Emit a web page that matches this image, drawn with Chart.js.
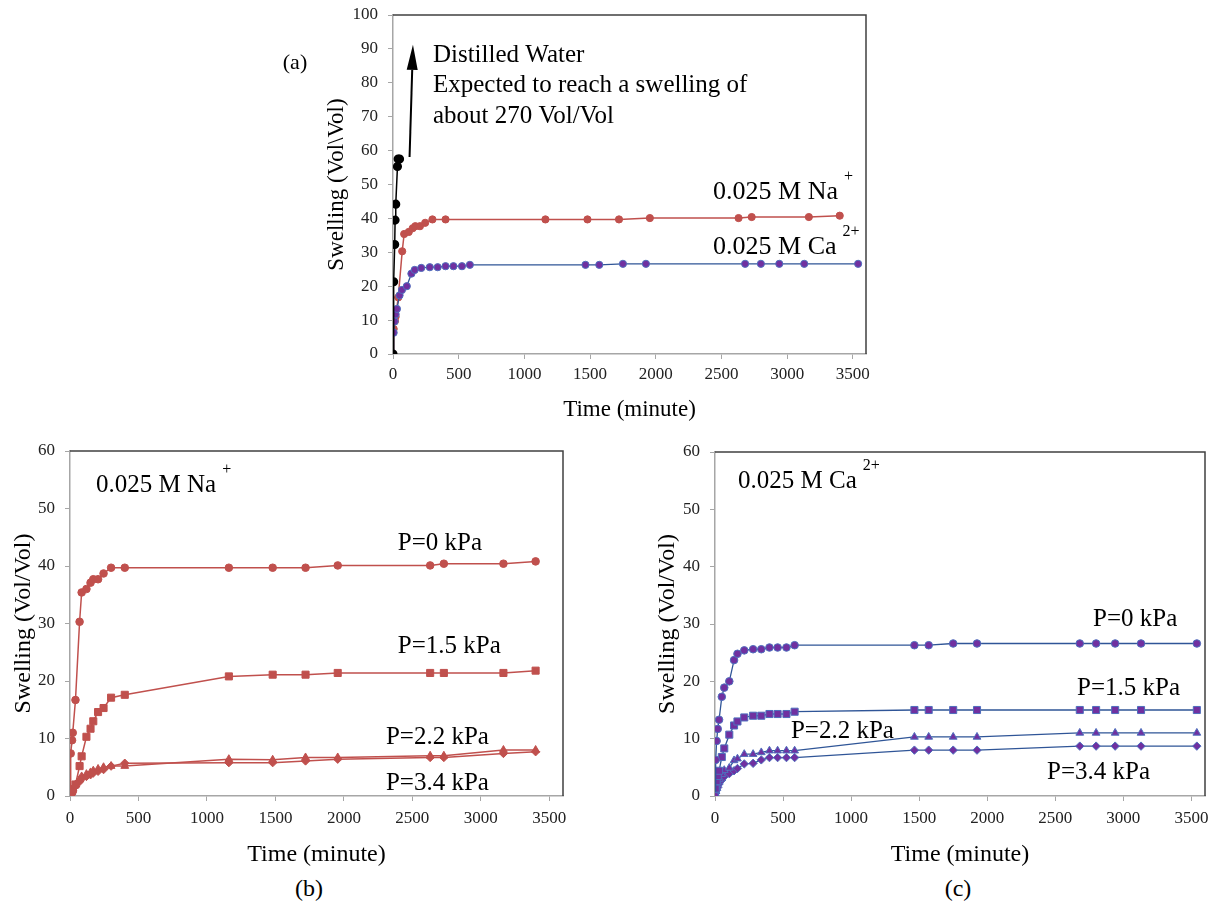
<!DOCTYPE html>
<html>
<head>
<meta charset="utf-8">
<script src="https://cdn.jsdelivr.net/npm/chart.js@4.4.0/dist/chart.umd.min.js"></script>
<style>
  body { margin: 0; background: #fff; width: 1213px; height: 901px; position: relative; overflow: hidden;
         font-family: "Liberation Serif", "Times New Roman", serif; }
  canvas { position: absolute; }
  .tag { position: absolute; font-size: 24px; color: #000; transform: translate(-50%, -50%); }
</style>
</head>
<body>
<canvas id="chartA" width="580" height="430" style="left:300px;top:0px"></canvas>
<canvas id="chartB" width="600" height="430" style="left:0px;top:440px"></canvas>
<canvas id="chartC" width="573" height="430" style="left:640px;top:440px"></canvas>
<div class="tag" style="left:295px;top:62px;font-size:22px">(a)</div>
<div class="tag" style="left:309px;top:888px">(b)</div>
<div class="tag" style="left:958px;top:888px">(c)</div>
<script>
var FONT = '"Liberation Serif", "Times New Roman", serif';

// tick labels
var timeTicks = [0, 500, 1000, 1500, 2000, 2500, 3000, 3500];
var swellTicksA = [0, 10, 20, 30, 40, 50, 60, 70, 80, 90, 100];
var swellTicksBC = [0, 10, 20, 30, 40, 50, 60];

// distilled water (panel a)
var waterTime = [0, 5, 13, 16, 21, 34, 39, 50];
var waterSwell = [0, 21.3, 32.3, 39.5, 44.2, 55.3, 57.5, 57.5];

// 0.025 M Na+ (panels a, b)
var naTime = [0, 5, 15, 20, 40, 70, 85, 120, 150, 170, 205, 245, 300, 400, 1160, 1480, 1720, 1955, 2630, 2730, 3165, 3400];
var naP0  = [0, 7.4, 9.7, 11.0, 16.7, 30.3, 35.4, 36.0, 37.1, 37.7, 37.7, 38.7, 39.7, 39.7, 39.7, 39.7, 39.7, 40.1, 40.1, 40.4, 40.4, 40.8];
var naP15 = [0, 0.3, 0.8, 1.2, 2.0, 5.2, 6.9, 10.3, 11.7, 13.0, 14.6, 15.3, 17.1, 17.6, 20.8, 21.1, 21.1, 21.4, 21.4, 21.4, 21.4, 21.8];
var naP22 = [0, 0.4, 0.8, 1.2, 2.0, 2.9, 3.4, 3.8, 4.1, 4.4, 4.7, 5.0, 5.2, 5.2, 6.4, 6.3, 6.7, 6.7, 7.0, 7.0, 8.0, 8.0];
var naP34 = [0, 0.3, 0.6, 1.0, 1.7, 2.5, 3.0, 3.4, 3.7, 4.0, 4.3, 4.6, 5.2, 5.7, 5.8, 5.8, 6.1, 6.4, 6.7, 6.7, 7.4, 7.7];

// 0.025 M Ca2+ (panels a, c)
var caTime = [0, 5, 12, 20, 30, 50, 68, 105, 140, 165, 215, 280, 340, 400, 460, 525, 585, 1465, 1570, 1750, 1925, 2680, 2800, 2940, 3130, 3540];
var caP0  = [0, 6.3, 9.6, 11.7, 13.3, 17.3, 18.9, 20.0, 23.7, 24.8, 25.4, 25.6, 25.6, 25.9, 25.9, 25.9, 26.3, 26.3, 26.3, 26.6, 26.6, 26.6, 26.6, 26.6, 26.6, 26.6];
var caP15 = [0, 1.3, 2.6, 3.5, 4.4, 6.8, 8.3, 10.7, 12.3, 13.0, 13.7, 14.0, 14.0, 14.3, 14.3, 14.3, 14.7, 15.0, 15.0, 15.0, 15.0, 15.0, 15.0, 15.0, 15.0, 15.0];
var caP22 = [0, 0.8, 1.5, 2.1, 2.9, 3.8, 4.5, 4.9, 6.2, 6.5, 7.3, 7.3, 7.6, 7.9, 7.9, 7.9, 7.9, 10.3, 10.3, 10.3, 10.3, 11.0, 11.0, 11.0, 11.0, 11.0];
var caP34 = [0, 0.5, 1.0, 1.5, 2.1, 2.8, 3.4, 3.9, 4.4, 4.8, 5.6, 5.7, 6.3, 6.7, 6.7, 6.7, 6.7, 8.0, 8.0, 8.0, 8.0, 8.7, 8.7, 8.7, 8.7, 8.7];

var RED = '#c0504d', BLUE = '#2f5597', PURPLE = '#7030a0', PEDGE = '#4f6fbd';

function pts(xs, ys) {
    return xs.map(function (x, i) { return { x: x, y: ys[i] }; });
}

function redSet(xs, ys, style, r) {
    return { data: pts(xs, ys), showLine: true, borderColor: RED, borderWidth: 1.5,
             pointStyle: style, pointRadius: r, pointBackgroundColor: RED, pointBorderColor: RED, pointBorderWidth: 1 };
}
function caSet(xs, ys, style, r) {
    return { data: pts(xs, ys), showLine: true, borderColor: BLUE, borderWidth: 1.3,
             pointStyle: style, pointRadius: r, pointBackgroundColor: PURPLE, pointBorderColor: PEDGE, pointBorderWidth: 1 };
}

// top and right frame lines
var framePlugin = {
    id: 'frame',
    afterDraw: function (chart) {
        var a = chart.chartArea, ctx = chart.ctx;
        ctx.save();
        ctx.strokeStyle = '#404040';
        ctx.lineWidth = 1.5;
        ctx.beginPath();
        ctx.moveTo(a.left, a.top);
        ctx.lineTo(a.right, a.top);
        ctx.lineTo(a.right, a.bottom);
        ctx.stroke();
        ctx.restore();
    }
};

// text labels and the arrow, placed in data coordinates
var notesPlugin = {
    id: 'notes',
    afterDatasetsDraw: function (chart, args, opts) {
        var ctx = chart.ctx, xs = chart.scales.x, ys = chart.scales.y;
        ctx.save();
        ctx.fillStyle = '#000';
        ctx.textAlign = 'left';
        ctx.textBaseline = 'alphabetic';
        (opts.items || []).forEach(function (n) {
            var px = xs.getPixelForValue(n.x), py = ys.getPixelForValue(n.y);
            ctx.font = n.size + 'px ' + FONT;
            ctx.fillText(n.text, px, py);
            if (n.sup) {
                var w = ctx.measureText(n.text).width;
                ctx.font = '16px ' + FONT;
                ctx.fillText(n.sup, px + w + 6, py - 18);
            }
        });
        if (opts.arrow) {
            var x0 = xs.getPixelForValue(opts.arrow[0]), y0 = ys.getPixelForValue(opts.arrow[1]);
            var x1 = xs.getPixelForValue(opts.arrow[2]), y1 = ys.getPixelForValue(opts.arrow[3]);
            var ang = Math.atan2(y1 - y0, x1 - x0), hl = 25, hw = 5.5;
            var bx = x1 - hl * Math.cos(ang), by = y1 - hl * Math.sin(ang);
            ctx.strokeStyle = '#000';
            ctx.lineWidth = 2;
            ctx.beginPath();
            ctx.moveTo(x0, y0);
            ctx.lineTo(bx, by);
            ctx.stroke();
            ctx.beginPath();
            ctx.moveTo(x1, y1);
            ctx.lineTo(bx + hw * Math.sin(ang), by - hw * Math.cos(ang));
            ctx.lineTo(bx - hw * Math.sin(ang), by + hw * Math.cos(ang));
            ctx.closePath();
            ctx.fill();
        }
        ctx.restore();
    }
};

function noPad(s) {
    s.paddingTop = 0; s.paddingBottom = 0; s.paddingLeft = 0; s.paddingRight = 0;
}

function makeOptions(c) {
    return {
        responsive: false,
        animation: false,
        layout: { padding: { top: c.top, right: c.right, left: 0, bottom: 0 } },
        plugins: { legend: { display: false }, tooltip: { enabled: false }, notes: c.notes },
        scales: {
            x: {
                type: 'linear', min: 0, max: 3600,
                afterBuildTicks: function (s) { s.ticks = timeTicks.map(function (v) { return { value: v }; }); },
                afterFit: function (s) { s.height = c.xh; noPad(s); },
                grid: { drawOnChartArea: false, tickLength: 5, color: '#a6a6a6', lineWidth: 1 },
                border: { color: '#a6a6a6', width: 1.5 },
                ticks: { font: { family: FONT, size: 17 }, color: '#222', padding: c.xpad, maxRotation: 0, autoSkip: false,
                         callback: function (v) { return String(v); } },
                title: { display: true, text: 'Time (minute)', color: '#000', font: { family: FONT, size: c.ts }, padding: c.xtp }
            },
            y: {
                min: 0, max: c.ymax,
                afterBuildTicks: function (s) { s.ticks = c.yticks.map(function (v) { return { value: v }; }); },
                afterFit: function (s) { s.width = c.yw; noPad(s); },
                grid: { drawOnChartArea: false, tickLength: 5, color: '#a6a6a6', lineWidth: 1 },
                border: { color: '#a6a6a6', width: 1.5 },
                ticks: { font: { family: FONT, size: 17 }, color: '#222', padding: 10,
                         callback: function (v) { return String(v); } },
                title: { display: true, text: c.ytitle, color: '#000', font: { family: FONT, size: c.ts }, padding: c.ytp }
            }
        }
    };
}

new Chart(document.getElementById('chartA').getContext('2d'), {
    type: 'scatter',
    data: { datasets: [
        { data: pts(waterTime, waterSwell), showLine: true, borderColor: '#000', borderWidth: 1.5,
          pointRadius: 3.8, pointBackgroundColor: '#000', pointBorderColor: '#000' },
        caSet(caTime, caP0, 'circle', 3.6),
        redSet(naTime, naP0, 'circle', 3.6)
    ] },
    options: makeOptions({ top: 15, right: 14, xh: 76, yw: 93, xpad: 5, ts: 23, xtp: 6, ytp: 23, ymax: 100,
        yticks: swellTicksA, ytitle: 'Swelling (Vol\\Vol)',
        notes: {
            items: [
                { text: 'Distilled Water', x: 304, y: 86.1, size: 25 },
                { text: 'Expected to reach a swelling of', x: 304, y: 77.3, size: 25 },
                { text: 'about 270 Vol/Vol', x: 304, y: 68.1, size: 25 },
                { text: '0.025 M Na', sup: '+', x: 2436, y: 45.7, size: 26 },
                { text: '0.025 M Ca', sup: '2+', x: 2436, y: 29.5, size: 26 }
            ],
            arrow: [126, 58.1, 152, 91.2]
        } }),
    plugins: [framePlugin, notesPlugin]
});

new Chart(document.getElementById('chartB').getContext('2d'), {
    type: 'scatter',
    data: { datasets: [
        redSet(naTime, naP0, 'circle', 3.8),
        redSet(naTime, naP15, 'rect', 5),
        redSet(naTime, naP22, 'triangle', 4.5),
        redSet(naTime, naP34, 'rectRot', 4.2)
    ] },
    options: makeOptions({ top: 11, right: 37, xh: 74, yw: 70, xpad: 7, ts: 24, xtp: 1, ytp: 9, ymax: 60,
        yticks: swellTicksBC, ytitle: 'Swelling (Vol/Vol)',
        notes: { items: [
            { text: '0.025 M Na', sup: '+', x: 190, y: 52.9, size: 25 },
            { text: 'P=0 kPa', x: 2394, y: 42.8, size: 25 },
            { text: 'P=1.5 kPa', x: 2394, y: 24.9, size: 25 },
            { text: 'P=2.2 kPa', x: 2307, y: 9.0, size: 25 },
            { text: 'P=3.4 kPa', x: 2307, y: 1.0, size: 25 }
        ] } }),
    plugins: [framePlugin, notesPlugin]
});

new Chart(document.getElementById('chartC').getContext('2d'), {
    type: 'scatter',
    data: { datasets: [
        caSet(caTime, caP0, 'circle', 3.8),
        caSet(caTime, caP15, 'rect', 5),
        caSet(caTime, caP22, 'triangle', 4.5),
        caSet(caTime, caP34, 'rectRot', 4.2)
    ] },
    options: makeOptions({ top: 12, right: 8, xh: 74, yw: 75, xpad: 7, ts: 24, xtp: 1, ytp: 13, ymax: 60,
        yticks: swellTicksBC, ytitle: 'Swelling (Vol/Vol)',
        notes: { items: [
            { text: '0.025 M Ca', sup: '2+', x: 169, y: 53.7, size: 25 },
            { text: 'P=0 kPa', x: 2777, y: 29.65, size: 25 },
            { text: 'P=1.5 kPa', x: 2660, y: 17.6, size: 25 },
            { text: 'P=2.2 kPa', x: 558, y: 10.1, size: 25 },
            { text: 'P=3.4 kPa', x: 2439, y: 2.97, size: 25 }
        ] } }),
    plugins: [framePlugin, notesPlugin]
});
</script>
</body>
</html>
